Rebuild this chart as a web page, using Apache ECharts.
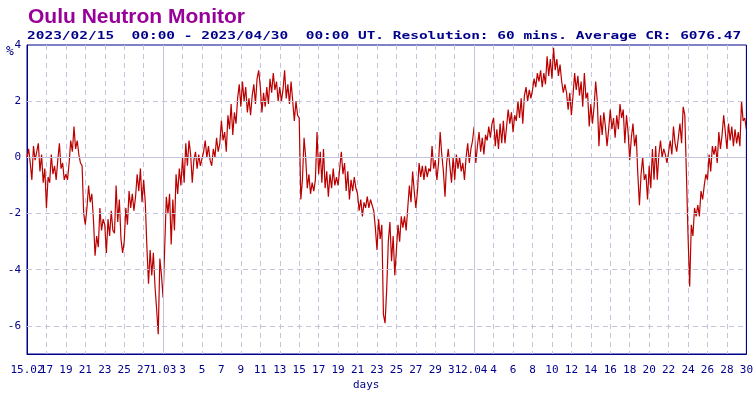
<!DOCTYPE html>
<html>
<head>
<meta charset="utf-8">
<script src="https://cdn.jsdelivr.net/npm/echarts@6/dist/echarts.min.js"></script>
<style>
  html, body { margin: 0; padding: 0; background: #fff; }
  #chart { width: 756px; height: 399px; }
</style>
</head>
<body>
<div id="chart"></div>
<script>
const titleText = 'Oulu Neutron Monitor'
const subtitleText = '2023/02/15  00:00 - 2023/04/30  00:00 UT. Resolution: 60 mins. Average CR: 6076.47'

// x tick labels, one every 2 days starting 15.02
const dayLabels = [
  '15.02', '17', '19', '21', '23', '25', '27',
  '1.03', '3', '5', '7', '9', '11', '13', '15', '17', '19', '21', '23', '25', '27', '29', '31',
  '2.04', '4', '6', '8', '10', '12', '14', '16', '18', '20', '22', '24', '26', '28', '30',
]
const monthDays = [14, 46]        // ticks drawn solid (first tick of a month)
const dashedLevels = [-6, -4, -2, 2]

// count rate variation in %, one row per day, every 4 hours
const pointsPerDay = 6
const variation = [
  0.0, 0.3, -0.2, -0.8, 0.4, -0.1,
  0.2, 0.5, -0.5, 0.1, -0.9, -0.4,
  -1.8, -0.7, -0.9, 0.1, -0.6, -0.3,
  -0.8, -0.1, 0.5, -0.4, -0.2, -0.8,
  -0.6, -0.8, -0.2, 0.6, 0.2, 1.1,
  0.3, 0.6, 0.1, -0.2, -0.3, -2.0,
  -2.4, -1.8, -1.0, -1.6, -1.3, -2.2,
  -3.5, -2.8, -3.2, -1.8, -2.6, -2.2,
  -2.4, -3.4, -2.2, -2.8, -1.9, -2.6,
  -2.7, -1.0, -2.3, -1.5, -2.9, -3.4,
  -3.0, -1.8, -2.4, -1.2, -1.8, -1.3,
  -1.9, -1.4, -0.6, -1.2, -0.4, -1.6,
  -0.8, -1.6, -3.2, -4.5, -3.3, -4.2,
  -3.4, -4.6, -5.4, -6.3, -3.6, -4.2,
  -5.0, -3.2, -1.4, -2.0, -1.3, -3.1,
  -1.5, -2.6, -0.6, -1.3, -0.4, -1.0,
  0.0, -0.9, 0.5, -0.3, 0.6, 0.1,
  -0.9, -0.1, 0.2, -0.4, 0.1, -0.3,
  -0.3, 0.2, 0.6, 0.0, 0.4, -0.1,
  -0.3, 0.3, 0.0, 0.7, 0.2, 0.5,
  1.3, 0.6, 0.9, 0.2, 1.5, 1.0,
  1.9, 0.8, 1.6, 1.2, 2.1, 2.6,
  1.8, 2.7, 2.0, 2.5, 1.6, 2.1,
  1.5, 2.2, 2.6, 1.9, 2.8, 3.1,
  2.5, 1.6, 2.3, 1.8, 2.5, 1.9,
  2.8, 2.3, 3.0, 2.4, 2.7, 2.0,
  2.5, 2.0, 2.4, 3.1, 2.1, 2.6,
  1.9, 2.7, 2.0, 1.3, 2.0, 1.5,
  1.4, -1.5, -0.8, 0.7, 0.0, -1.1,
  -0.6, -1.3, -0.9, -1.2, -0.8, 0.9,
  -0.6, 0.2, -0.9, 0.3, -1.1, -0.5,
  -1.4, -0.6, -1.1, -0.4, -1.0, -0.7,
  -1.0, -0.4, 0.2, -0.6, -0.2, -1.2,
  -0.5, -1.5, -0.8, -1.2, -0.7, -1.1,
  -1.3, -1.9, -1.5, -2.1, -1.6, -1.8,
  -1.4, -1.8, -1.5, -1.7, -1.9, -2.5,
  -3.3, -2.2, -2.9, -2.4, -5.6, -5.9,
  -4.7, -3.0, -2.3, -3.7, -2.8, -4.2,
  -3.3, -2.4, -3.0, -2.1, -2.5, -2.1,
  -2.6, -1.8, -1.0, -1.6, -0.5, -1.2,
  -1.8, -1.2, -0.2, -0.7, -0.3, -0.8,
  -0.3, -0.7, -0.4, -0.5, 0.4, -0.4,
  -0.1, -0.8, -0.2, 0.9, 0.1, -0.5,
  -1.4, -0.2, 0.3, -0.3, -0.9, 0.0,
  -0.8, 0.1, -0.4, 0.0, -0.5, -0.2,
  -0.8, 0.0, 0.5, -0.2, 0.3, 0.6,
  1.1, -0.2, 0.4, 0.9, 0.2, 0.7,
  0.1, 0.8, 0.6, 1.1, 0.7, 1.2,
  1.4, 0.4, 1.0, 0.3, 1.2, 0.5,
  1.3, 0.5, 1.1, 1.7, 1.2, 1.6,
  0.9, 1.5, 1.3, 2.0, 1.4, 2.1,
  1.2, 2.2, 2.5, 2.0, 2.4, 2.1,
  2.4, 2.8, 2.5, 3.0, 2.7, 3.1,
  2.5, 3.0, 2.6, 3.6, 2.9, 3.5,
  2.8, 3.9, 3.1, 3.5, 2.9, 3.3,
  2.7, 2.3, 2.6, 2.3, 1.7, 2.3,
  1.5, 2.2, 3.0, 2.4, 2.9, 2.2,
  2.7, 1.8, 3.0, 2.1, 2.3, 1.1,
  1.9, 1.2, 1.8, 2.7, 2.0, 0.4,
  1.5, 0.8, 1.6, 1.1, 0.4, 1.0,
  1.7, 1.0, 1.4, 0.7, 1.5, 1.0,
  1.9, 1.4, 1.7, 0.5, 1.5, 0.9,
  -0.1, 0.7, 1.2, 0.4, 0.8, -0.6,
  -1.7, -0.6, 0.0, -0.8, -0.6, -1.5,
  -0.3, -1.1, 0.3, -0.8, 0.4, -0.8,
  0.1, 0.6, 0.0, 0.3, 0.1, -0.2,
  0.2, 0.6, 0.1, 1.1, 0.5, 0.2,
  0.7, 1.2, 0.5, 1.8, 1.5, -0.6,
  -2.8, -4.6, -2.4, -2.8, -1.8, -2.1,
  -1.7, -2.1, -1.2, -1.5, -1.0, -0.6,
  -0.8, 0.1, -0.5, 0.4, 0.1, 0.4,
  -0.2, 0.9, 0.3, 0.8, 1.5, 0.9,
  0.3, 1.2, 0.6, 1.1, 0.4, 1.0,
  0.5, 0.9, 0.4, 2.0, 1.3, 1.4,
  1.0,
]

const navy = '#00008b'
const gridColor = '#c4c4dc'
const mono = '"DejaVu Sans Mono", monospace'

const points = variation.map((v, i) => [i / pointsPerDay, v])

const gridLines = [
  ...dashedLevels.map((y) => ({ yAxis: y, lineStyle: { type: [5, 4] } })),
  { yAxis: 0, lineStyle: { type: 'solid' } },
  ...monthDays.map((x) => ({ xAxis: x, lineStyle: { type: 'solid' } })),
]

const dayLabel = {
  color: navy, fontFamily: mono, fontSize: 11, margin: 11, hideOverlap: false,
}

const chart = echarts.init(document.getElementById('chart'))

chart.setOption({
  animation: false,
  grid: {
    left: 27, right: 9, top: 45, bottom: 45,
    show: true, borderColor: navy, borderWidth: 1,
  },
  xAxis: [
    {
      type: 'value',
      min: 0, max: 74, interval: 2,
      axisLine: { onZero: false, lineStyle: { color: navy, width: 1 } },
      axisTick: { show: false },
      axisLabel: {
        ...dayLabel,
        showMinLabel: false, showMaxLabel: true,
        formatter: (v) => dayLabels[Math.round(v / 2)],
      },
      splitLine: { show: true, lineStyle: { color: gridColor, type: [5, 4] } },
    },
    {
      // carries only the first label, which touches its neighbour
      type: 'value',
      position: 'bottom',
      min: 0, max: 74, interval: 2,
      axisLine: { show: false },
      axisTick: { show: false },
      axisLabel: {
        ...dayLabel,
        showMinLabel: true,
        formatter: (v) => (v === 0 ? dayLabels[0] : ''),
      },
      splitLine: { show: false },
    },
  ],
  yAxis: {
    type: 'value',
    min: -7, max: 4, interval: 1,
    axisLine: { show: true, lineStyle: { color: navy, width: 1 } },
    axisTick: { show: false },
    axisLabel: {
      color: navy, fontFamily: mono, fontSize: 11, margin: 6,
      formatter: (v) => (v % 2 === 0 ? String(v) : ''),
    },
    splitLine: { show: false },
  },
  graphic: [
    {
      type: 'text', left: 28, top: 7,
      style: { text: titleText, fill: '#990099', font: 'bold 21px "Liberation Sans", sans-serif' },
    },
    {
      type: 'text', left: 27, top: 31, scaleX: 1.315,
      style: { text: subtitleText, fill: navy, font: 'bold 11px ' + mono },
    },
    {
      type: 'text', left: 6, top: 45,
      style: { text: '%', fill: navy, font: '13px ' + mono },
    },
    {
      type: 'text', left: 353, top: 380,
      style: { text: 'days', fill: navy, font: '11px ' + mono },
    },
  ],
  series: [
    {
      type: 'line',
      data: [],
      z: 1,
      silent: true,
      markLine: {
        silent: true,
        symbol: ['none', 'none'],
        label: { show: false },
        lineStyle: { color: gridColor, width: 1 },
        data: gridLines,
      },
    },
    {
      type: 'line',
      data: points,
      z: 3,
      showSymbol: false,
      lineStyle: { color: '#bb0000', width: 1.2 },
      markLine: {
        silent: true,
        symbol: ['none', 'none'],
        label: { show: false },
        lineStyle: { color: navy, width: 1, type: 'solid' },
        data: [{ xAxis: 74 }],
      },
    },
  ],
})
</script>
</body>
</html>
